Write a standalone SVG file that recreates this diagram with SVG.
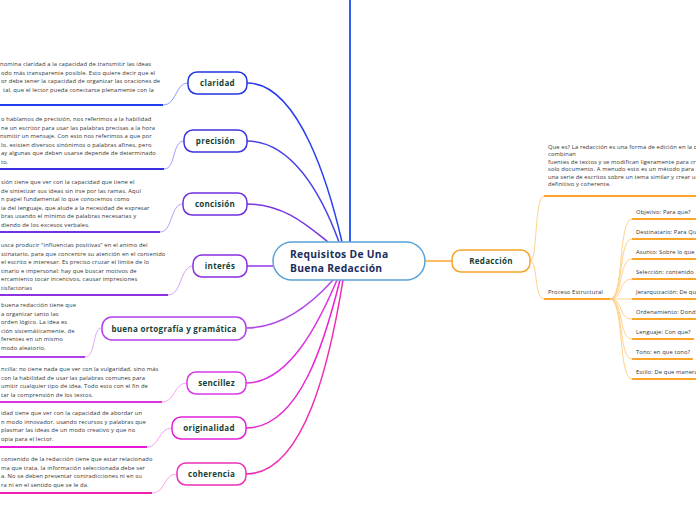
<svg xmlns="http://www.w3.org/2000/svg" width="696" height="520" viewBox="0 0 696 520">
<style>
.t{font-family:"Open Sans","Noto Sans","Liberation Sans",sans-serif;font-size:5.8px;fill:#333;letter-spacing:0.12px}
.n{font-family:"Open Sans","Noto Sans","Liberation Sans",sans-serif;font-size:8px;font-weight:bold;fill:#143f35;text-anchor:middle;letter-spacing:0.3px}
.c{font-family:"Open Sans","Noto Sans","Liberation Sans",sans-serif;font-size:10.3px;font-weight:bold;fill:#1c2d5c;letter-spacing:0.3px}
.box{fill:#fff;stroke-width:1.5}
.ul{fill:none;stroke-width:2}
.thin{fill:none;stroke-width:0.8}
.con{fill:none;stroke-width:1.5}
.o{stroke:#ffa62b}
.ot{stroke:#ffc56e}
</style>
<rect width="696" height="520" fill="#fff"/>
<g id="connectors">
<line x1="350" y1="0" x2="350" y2="242" stroke="#2f5ff0" stroke-width="2"/>
<path class="con" stroke="#2b3ff0" d="M247,83 C300,83 330,190 342,242"/>
<path class="con" stroke="#4b45e8" d="M247,141 C290,141 320,190 339,242"/>
<path class="con" stroke="#7b35e6" d="M247,204 C285,204 310,228 328,242"/>
<path class="con" stroke="#9436e6" d="M247,266 L273,266"/>
<path class="con" stroke="#b247e8" d="M246,328 C285,328 315,300 333,280"/>
<path class="con" stroke="#dd33e0" d="M246,383 C290,383 320,320 337,280"/>
<path class="con" stroke="#e826cf" d="M246,428 C300,428 325,340 340,280"/>
<path class="con" stroke="#f22bb5" d="M246,474 C305,474 330,360 343,280"/>
<path class="con o" d="M425,261 L452,261"/>
<path class="ul" stroke="#2040f0" d="M0,105 H163"/>
<path class="thin" stroke="#7a86ff" d="M163,105 C177,105 175,83 188,83"/>
<path class="ul" stroke="#3a30e0" d="M0,169 H164"/>
<path class="thin" stroke="#8a80ff" d="M164,169 C176,169 172,141 184,141"/>
<path class="ul" stroke="#7030e8" d="M0,232 H160"/>
<path class="thin" stroke="#a880ff" d="M160,232 C173,232 170,204 183,204"/>
<path class="ul" stroke="#9030e0" d="M0,295 H168"/>
<path class="thin" stroke="#c08af0" d="M168,295 C182,295 180,266 193,266"/>
<path class="ul" stroke="#b040e8" d="M0,357 H85"/>
<path class="thin" stroke="#d890f2" d="M85,357 C96,357 92,328 102,328"/>
<path class="ul" stroke="#e030e0" d="M0,402 H162"/>
<path class="thin" stroke="#f090f0" d="M162,402 C176,402 173,383 187,383"/>
<path class="ul" stroke="#e818d8" d="M0,447 H147"/>
<path class="thin" stroke="#f48aec" d="M147,447 C160,447 158,428 172,428"/>
<path class="ul" stroke="#f020b0" d="M0,493 H152"/>
<path class="thin" stroke="#f890d8" d="M152,493 C166,493 163,474 177,474"/>
<path class="thin ot" d="M530,261 C538,261 534,196 544,196"/>
<path class="thin ot" d="M530,261 C538,261 534,299 544,299"/>
<path class="ul o" d="M544,196 H696"/>
<path class="ul o" d="M544,299 H610"/>
<path class="thin ot" d="M610,299 C624,299 618,219 632,219"/>
<path class="thin ot" d="M610,299 C624,299 618,239 632,239"/>
<path class="thin ot" d="M610,299 C624,299 618,259 632,259"/>
<path class="thin ot" d="M610,299 C624,299 618,279 632,279"/>
<path class="thin ot" d="M610,299 L632,299"/>
<path class="thin ot" d="M610,299 C624,299 618,319 632,319"/>
<path class="thin ot" d="M610,299 C624,299 618,339 632,339"/>
<path class="thin ot" d="M610,299 C624,299 618,359 632,359"/>
<path class="thin ot" d="M610,299 C624,299 618,379 632,379"/>
<g class="o" fill="none" stroke-width="1.8">
<path d="M632,219 H696"/>
<path d="M632,239 H696"/>
<path d="M632,259 H696"/>
<path d="M632,279 H696"/>
<path d="M632,299 H696"/>
<path d="M632,319 H696"/>
<path d="M632,339 H694"/>
<path d="M632,359 H693"/>
<path d="M632,379 H696"/>
</g>
</g>
<g id="central">
<rect x="273" y="242" width="152" height="38" rx="19" fill="#fff" stroke="#5ba3d6" stroke-width="1.5"/>
<text class="c" x="290" y="258">Requisitos De Una</text>
<text class="c" x="290" y="271.5">Buena Redacción</text>
</g>
<g id="claridad">
<rect class="box" x="188" y="72" width="59" height="22" rx="9" stroke="#2236e0"/>
<text class="n" x="217.5" y="86">claridad</text>
</g>
<g id="precision">
<rect class="box" x="184" y="130" width="63" height="22" rx="9" stroke="#3f33dd"/>
<text class="n" x="215.5" y="144">precisión</text>
</g>
<g id="concision">
<rect class="box" x="183" y="193" width="64" height="22" rx="9" stroke="#7030e0"/>
<text class="n" x="215" y="207">concisión</text>
</g>
<g id="interes">
<rect class="box" x="193" y="255" width="54" height="22" rx="9" stroke="#8a30e0"/>
<text class="n" x="220" y="269">interés</text>
</g>
<g id="ortografia">
<rect class="box" x="102" y="317" width="144" height="23" rx="10" stroke="#b040e8"/>
<text class="n" x="174" y="331.5">buena ortografía y gramática</text>
</g>
<g id="sencillez">
<rect class="box" x="187" y="372" width="59" height="22" rx="9" stroke="#d838e8"/>
<text class="n" x="216.5" y="386">sencillez</text>
</g>
<g id="originalidad">
<rect class="box" x="172" y="417" width="74" height="22" rx="9" stroke="#e020d8"/>
<text class="n" x="209" y="431">originalidad</text>
</g>
<g id="coherencia">
<rect class="box" x="177" y="463" width="69" height="22" rx="9" stroke="#ee30b8"/>
<text class="n" x="211.5" y="477">coherencia</text>
</g>
<g id="redaccion">
<rect class="box" x="452" y="250" width="78" height="22" rx="9" stroke="#f8a42a"/>
<text class="n" x="491" y="264">Redacción</text>
</g>
<g id="texto-claridad" class="t">
<text x="0" y="66">nomina claridad a la capacidad de transmitir las ideas</text>
<text x="1" y="74.5">odo más transparente posible. Esto quiere decir que el</text>
<text x="1" y="83">or debe tener la capacidad de organizar las oraciones de</text>
<text x="3" y="91.5">tal, que el lector pueda conectarse plenamente con la</text>
</g>
<g id="texto-precision" class="t">
<text x="1" y="121">o hablamos de precisión, nos referimos a la habilidad</text>
<text x="1" y="129.5">ne un escritor para usar las palabras precisas a la hora</text>
<text x="0" y="138">nsmitir un mensaje. Con esto nos referimos a que por</text>
<text x="1" y="146.5">lo, existen diversos sinónimos o palabras afines, pero</text>
<text x="1" y="155">ay algunas que deben usarse depende de determinado</text>
<text x="1" y="163.5">to.</text>
</g>
<g id="texto-concision" class="t">
<text x="1" y="184">sión tiene que ver con la capacidad que tiene el</text>
<text x="1" y="192.5">de sintetizar sus ideas sin irse por las ramas. Aquí</text>
<text x="1" y="201">n papel fundamental lo que conocemos como</text>
<text x="1" y="209.5">ia del lenguaje, que alude a la necesidad de expresar</text>
<text x="1" y="218">bras usando el mínimo de palabras necesarias y</text>
<text x="1" y="226.5">diendo de los excesos verbales.</text>
</g>
<g id="texto-interes" class="t">
<text x="1" y="247">usca producir "influencias positivas" en el animo del</text>
<text x="1" y="255.5">stinatario, para que concentre su atención en el contenido</text>
<text x="1" y="264">el escrito e interesar. Es preciso cruzar el limite de lo</text>
<text x="1" y="272.5">tinario e impersonal: hay que buscar motivos de</text>
<text x="1" y="281">ercamiento tocar incentivos, causar impresiones</text>
<text x="1" y="289.5">tisfactorias</text>
</g>
<g id="texto-ortografia" class="t">
<text x="1" y="307">buena redacción tiene que</text>
<text x="1" y="315.5">a organizar tanto las</text>
<text x="1" y="324">orden lógico. La idea es</text>
<text x="1" y="332.5">ción sistemáticamente, de</text>
<text x="1" y="341">ferentes en un mismo</text>
<text x="1" y="349.5">modo aleatorio.</text>
</g>
<g id="texto-sencillez" class="t">
<text x="1" y="371">ncilla: no tiene nada que ver con la vulgaridad, sino más</text>
<text x="1" y="379.5">con la habilidad de usar las palabras comunes para</text>
<text x="1" y="388">umitir cualquier tipo de idea. Todo esto con el fin de</text>
<text x="1" y="396.5">tar la comprensión de los textos.</text>
</g>
<g id="texto-originalidad" class="t">
<text x="1" y="415">idad tiene que ver con la capacidad de abordar un</text>
<text x="1" y="423.5">n modo innovador, usando recursos y palabras que</text>
<text x="1" y="432">plasmar las ideas de un modo creativo y que no</text>
<text x="1" y="440.5">opia para el lector.</text>
</g>
<g id="texto-coherencia" class="t">
<text x="1" y="461">contenido de la redacción tiene que estar relacionado</text>
<text x="1" y="469.5">ma que trata, la información seleccionada debe ser</text>
<text x="1" y="478">a. No se deben presentar contradicciones ni en su</text>
<text x="1" y="486.5">ra ni en el sentido que se le da.</text>
</g>
<g id="que-es" class="t">
<text x="548" y="149">Que es? La redacción es una forma de edición en la q</text>
<text x="548" y="156">combinan</text>
<text x="548" y="164">fuentes de textos y se modifican ligeramente para cre</text>
<text x="548" y="171">solo documento. A menudo esto es un método para r</text>
<text x="548" y="178.5">una serie de escritos sobre un tema similar y crear u</text>
<text x="548" y="186">definitivo y coherente.</text>
</g>
<g id="proceso" class="t">
<text x="548" y="294">Proceso Estructural</text>
</g>
<g id="items" class="t">
<text x="636" y="214">Objetivo: Para que?</text>
<text x="636" y="234">Destinatario: Para Qu</text>
<text x="636" y="254">Asunto: Sobre lo que s</text>
<text x="636" y="274">Selección: contenido</text>
<text x="636" y="294">Jerarquización: De qu</text>
<text x="636" y="314">Ordenamiento: Dond</text>
<text x="636" y="334">Lenguaje: Con que?</text>
<text x="636" y="354">Tono: en que tono?</text>
<text x="636" y="374">Estilo: De que manera</text>
</g>
</svg>
